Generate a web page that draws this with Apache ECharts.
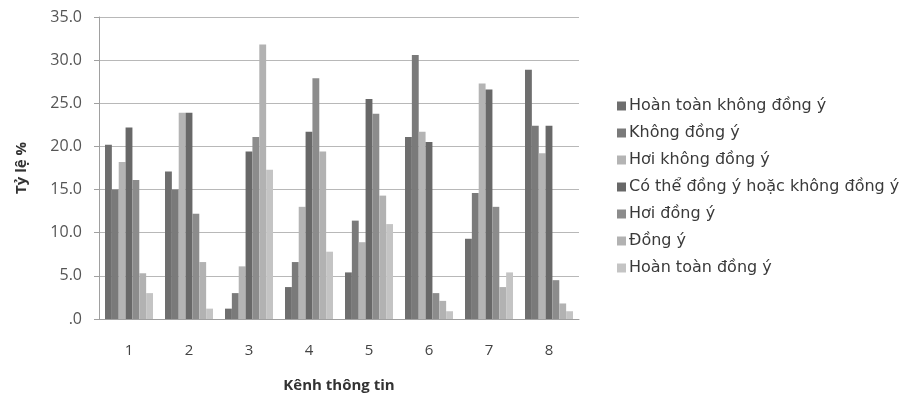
<!DOCTYPE html>
<html>
<head>
<meta charset="utf-8">
<script src="https://cdn.jsdelivr.net/npm/echarts@6/dist/echarts.min.js"></script>
<style>
  html, body { margin: 0; padding: 0; background: #ffffff; }
  #chart { width: 923px; height: 399px; }
</style>
</head>
<body>
<div id="chart"></div>
<script>
// Kênh thông tin (information channels)
const categories = ['1', '2', '3', '4', '5', '6', '7', '8'];

// Response levels, percentage per channel
const seriesNames = [
  'Hoàn toàn không đồng ý',
  'Không đồng ý',
  'Hơi không đồng ý',
  'Có thể đồng ý hoặc không đồng ý',
  'Hơi đồng ý',
  'Đồng ý',
  'Hoàn toàn đồng ý'
];

const hoanToanKhongDongY = [20.2, 17.1, 1.2, 3.7, 5.4, 21.1, 9.3, 28.9];
const khongDongY         = [15.0, 15.0, 3.0, 6.6, 11.4, 30.6, 14.6, 22.4];
const hoiKhongDongY      = [18.2, 23.9, 6.1, 13.0, 8.9, 21.7, 27.3, 19.2];
const coTheDongY         = [22.2, 23.9, 19.4, 21.7, 25.5, 20.5, 26.6, 22.4];
const hoiDongY           = [16.1, 12.2, 21.1, 27.9, 23.8, 3.0, 13.0, 4.5];
const dongY              = [5.3, 6.6, 31.8, 19.4, 14.3, 2.1, 3.7, 1.8];
const hoanToanDongY      = [3.0, 1.2, 17.3, 7.8, 11.0, 0.9, 5.4, 0.9];

const yTicks = [0, 5, 10, 15, 20, 25, 30, 35];

const seriesValues = [
  hoanToanKhongDongY, khongDongY, hoiKhongDongY, coTheDongY,
  hoiDongY, dongY, hoanToanDongY
];
const colors = ['#6e6e6e', '#7a7a7a', '#b4b4b4', '#686868', '#8c8c8c', '#b2b2b2', '#c4c4c4'];

const chart = echarts.init(document.getElementById('chart'), null, { renderer: 'canvas' });

chart.setOption({
  animation: false,
  backgroundColor: '#ffffff',
  color: colors,
  grid: { left: 99, right: 344, top: 17, bottom: 80, containLabel: false, outerBoundsMode: 'none' },
  legend: {
    orient: 'vertical',
    left: 612,
    top: 93,
    itemWidth: 9,
    itemHeight: 9,
    itemGap: 11,
    icon: 'rect',
    textStyle: { fontFamily: 'DejaVu Sans, sans-serif', fontSize: 16, color: '#3a3a3a', lineHeight: 16, padding: [0, 0, 0, -2] },
    data: seriesNames
  },
  xAxis: {
    type: 'category',
    data: categories,
    name: 'Kênh thông tin',
    nameLocation: 'middle',
    nameGap: 59,
    nameTextStyle: { fontFamily: 'Open Sans, sans-serif', fontWeight: 'bold', fontSize: 15, color: '#333' },
    axisLine: { lineStyle: { color: '#a0a0a0', width: 1 } },
    axisTick: { show: false },
    axisLabel: { fontFamily: 'Open Sans, sans-serif', fontSize: 15, color: '#444', margin: 24 }
  },
  yAxis: {
    type: 'value',
    min: 0,
    max: 35,
    interval: 5,
    name: 'Tỷ lệ %',
    nameLocation: 'middle',
    nameGap: 70,
    nameRotate: 90,
    nameTextStyle: { fontFamily: 'Open Sans, sans-serif', fontWeight: 'bold', fontSize: 15, color: '#333' },
    axisLine: { show: true, lineStyle: { color: '#a0a0a0', width: 1 } },
    axisTick: { show: true, length: 5, lineStyle: { color: '#a0a0a0' } },
    axisLabel: {
      fontFamily: 'Open Sans, sans-serif',
      fontSize: 16,
      color: '#555',
      margin: 17,
      formatter: function (v) {
        return yTicks.indexOf(v) === 0 ? '.0' : v.toFixed(1);
      }
    },
    splitLine: { show: true, lineStyle: { color: '#b8b8b8', width: 1 } }
  },
  series: seriesNames.map(function (name, i) {
    return {
      name: name,
      type: 'bar',
      data: seriesValues[i],
      barGap: '0%',
      barCategoryGap: '20%',
      itemStyle: { color: colors[i] }
    };
  })
});
</script>
</body>
</html>
